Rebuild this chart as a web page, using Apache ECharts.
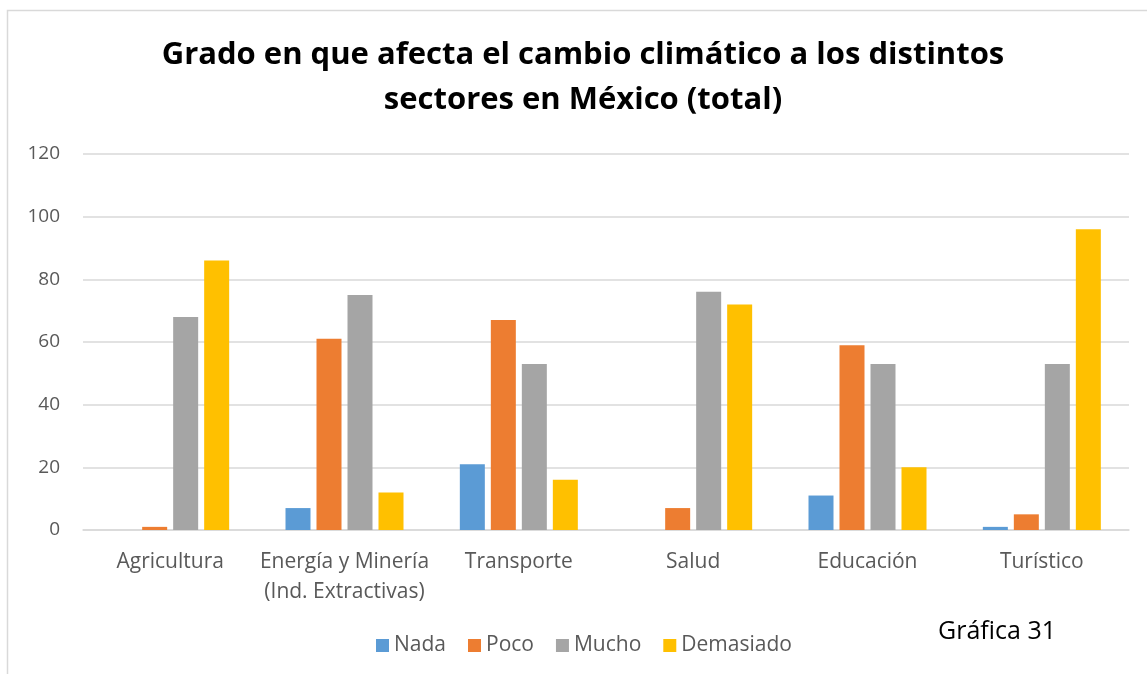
<!DOCTYPE html>
<html><head><meta charset="utf-8">
<script src="https://cdn.jsdelivr.net/npm/echarts@6/dist/echarts.min.js"></script>
<style>html,body{margin:0;padding:0;background:#fff}#c{width:1147px;height:674px}</style>
</head><body><div id="c"></div>
<script>
const categories = ['Agricultura', 'Energía y Minería\n(Ind. Extractivas)', 'Transporte', 'Salud', 'Educación', 'Turístico'];
const nada = [0, 7, 21, 0, 11, 1];
const poco = [1, 61, 67, 7, 59, 5];
const mucho = [68, 75, 53, 76, 53, 53];
const demasiado = [86, 12, 16, 72, 20, 96];
const yTicks = [0, 20, 40, 60, 80, 100, 120];

const font = '"Open Sans", "Noto Sans", sans-serif';
const chart = echarts.init(document.getElementById('c'), null, {renderer: 'canvas'});
const mk = (name, data, color) => ({
  name, type: 'bar', data, barWidth: 25, barGap: '24%',
  itemStyle: {color}
});
chart.setOption({
  animation: false,
  graphic: [
    {type: 'rect', shape: {x: 7.5, y: 10.5, width: 1200, height: 700},
     style: {fill: 'none', stroke: '#d9d9d9', lineWidth: 1.5}, silent: true},
    {type: 'text', x: 583, y: 55, style: {text: 'Grado en que afecta el cambio climático a los distintos',
      fontFamily: font, fontWeight: 'bold', fontSize: 31, fill: '#000', textAlign: 'center', textVerticalAlign: 'middle'}},
    {type: 'text', x: 583, y: 100, style: {text: 'sectores en México (total)',
      fontFamily: font, fontWeight: 'bold', fontSize: 31, fill: '#000', textAlign: 'center', textVerticalAlign: 'middle'}},
    {type: 'text', x: 997, y: 632, style: {text: 'Gráfica 31',
      fontFamily: font, fontSize: 25, fill: '#000', textAlign: 'center', textVerticalAlign: 'middle'}}
  ],
  legend: {
    data: ['Nada', 'Poco', 'Mucho', 'Demasiado'],
    left: 376, top: 635, padding: 0, itemWidth: 13, itemHeight: 13, itemGap: 22,
    icon: 'rect',
    textStyle: {fontFamily: font, fontSize: 21, color: '#595959'}
  },
  grid: {left: 83, right: 18, top: 154, bottom: 144, containLabel: false},
  xAxis: {
    type: 'category', data: categories,
    axisLine: {lineStyle: {color: '#d9d9d9', width: 1.5}},
    axisTick: {show: false},
    axisLabel: {fontFamily: font, fontSize: 21, color: '#595959', margin: 17, lineHeight: 30, interval: 0}
  },
  yAxis: {
    type: 'value', min: yTicks[0], max: yTicks[yTicks.length - 1], interval: 20,
    axisLine: {show: false}, axisTick: {show: false},
    splitLine: {lineStyle: {color: '#d9d9d9', width: 1.5}},
    axisLabel: {fontFamily: font, fontSize: 19, color: '#595959', margin: 23}
  },
  series: [
    mk('Nada', nada, '#5B9BD5'),
    mk('Poco', poco, '#ED7D31'),
    mk('Mucho', mucho, '#A5A5A5'),
    mk('Demasiado', demasiado, '#FFC000')
  ]
});
</script></body></html>
